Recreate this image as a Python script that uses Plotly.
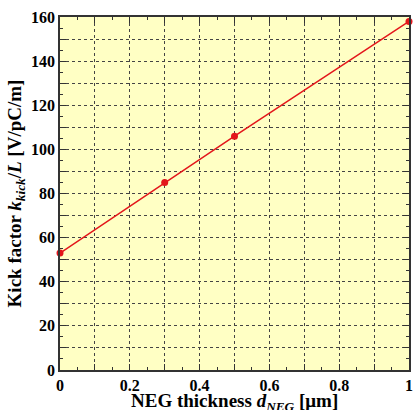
import plotly.graph_objects as go

thickness = [0.0, 0.3, 0.5, 1.0]
kick = [53, 85, 106, 158]

x_tickvals = [i / 10 for i in range(11)]
x_ticktext = ["0", "", "0.2", "", "0.4", "", "0.6", "", "0.8", "", "1"]
y_tickvals = list(range(0, 161, 10))
y_ticktext = [str(v) if v % 20 == 0 else "" for v in y_tickvals]

fig = go.Figure()
fig.add_trace(go.Scatter(
    x=thickness, y=kick, mode="lines+markers",
    line=dict(color="#e3161b", width=1.5),
    marker=dict(color="#e3161b", size=7),
    showlegend=False, cliponaxis=False,
))

FAM = "Liberation Serif"
fig.update_layout(
    width=415, height=410,
    margin=dict(l=60, r=2, t=17, b=40),
    paper_bgcolor="white",
    plot_bgcolor="#ffffc4",
    font=dict(family=FAM, color="black"),
)
common = dict(
    showline=True, linecolor="#333", linewidth=1.5, mirror="allticks",
    ticks="inside", ticklen=6, tickcolor="#333",
    showgrid=True, gridcolor="#444", griddash="dot", gridwidth=1,
    zeroline=False,
    tickfont=dict(family=FAM, size=16, color="black", weight="bold"),
)
fig.update_xaxes(
    range=[0, 1], tickmode="array", tickvals=x_tickvals, ticktext=x_ticktext,
    minor=dict(dtick=0.05, ticks="inside", ticklen=3, tickcolor="#333", showgrid=False),
    **common,
)
fig.update_yaxes(
    range=[0, 160], tickmode="array", tickvals=y_tickvals, ticktext=y_ticktext,
    minor=dict(dtick=5, ticks="inside", ticklen=3, tickcolor="#333", showgrid=False),
    title=dict(text="Kick factor <i>k<sub>kick</sub></i>/<i>L</i> [V/pC/m]",
               font=dict(family=FAM, size=19, color="black", weight="bold"),
               standoff=4),
    **common,
)
fig.add_annotation(
    text="NEG thickness <i>d<sub>NEG</sub></i> [μm]",
    xref="paper", yref="paper", x=0.5, y=0, xanchor="center", yanchor="top",
    yshift=-18, showarrow=False,
    font=dict(family=FAM, size=19, color="black", weight="bold"),
)
fig.write_html("out.html", config={"displayModeBar": False},
               post_script="document.body.style.margin='0';document.body.style.overflow='hidden';")
